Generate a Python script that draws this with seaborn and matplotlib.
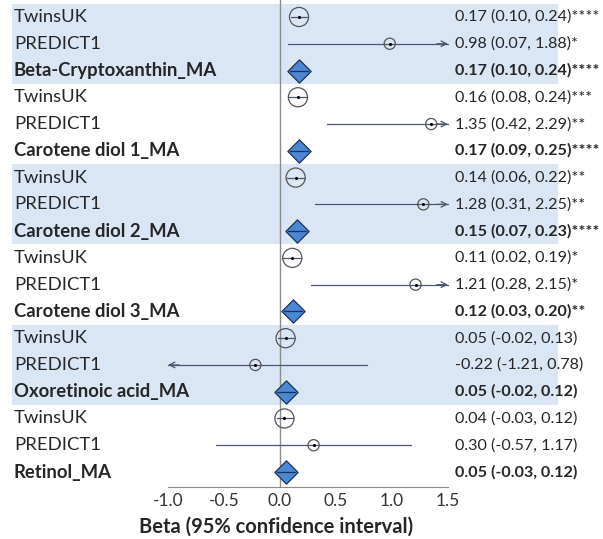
import numpy as np
import pandas as pd
import matplotlib
matplotlib.use('Agg')
import matplotlib.pyplot as plt
import seaborn as sns

# Data
groups = ['Beta-Cryptoxanthin_MA', 'Carotene diol 1_MA', 'Carotene diol 2_MA',
          'Carotene diol 3_MA', 'Oxoretinoic acid_MA', 'Retinol_MA']

twins_est = [0.17, 0.16, 0.14, 0.11, 0.05, 0.04]
twins_lo = [0.10, 0.08, 0.06, 0.02, -0.02, -0.03]
twins_hi = [0.24, 0.24, 0.22, 0.19, 0.13, 0.12]
twins_sig = ['****', '***', '**', '*', '', '']

predict_est = [0.98, 1.35, 1.28, 1.21, -0.22, 0.30]
predict_lo = [0.07, 0.42, 0.31, 0.28, -1.21, -0.57]
predict_hi = [1.88, 2.29, 2.25, 2.15, 0.78, 1.17]
predict_sig = ['*', '**', '**', '*', '', '']

ma_est = [0.17, 0.17, 0.15, 0.12, 0.05, 0.05]
ma_lo = [0.10, 0.09, 0.07, 0.03, -0.02, -0.03]
ma_hi = [0.24, 0.25, 0.23, 0.20, 0.12, 0.12]
ma_sig = ['****', '****', '****', '**', '', '']

xticks = [-1.0, -0.5, 0.0, 0.5, 1.0, 1.5]

# Build a long table, one row per line of the plot
rows = []
for i, g in enumerate(groups):
    rows.append(dict(pos=3 * i, label='TwinsUK', kind='twins', est=twins_est[i],
                     lo=twins_lo[i], hi=twins_hi[i], sig=twins_sig[i]))
    rows.append(dict(pos=3 * i + 1, label='PREDICT1', kind='predict', est=predict_est[i],
                     lo=predict_lo[i], hi=predict_hi[i], sig=predict_sig[i]))
    rows.append(dict(pos=3 * i + 2, label=g, kind='ma', est=ma_est[i],
                     lo=ma_lo[i], hi=ma_hi[i], sig=ma_sig[i]))
df = pd.DataFrame(rows)

sns.set_style('white')
plt.rcParams['font.family'] = ['Lato', 'DejaVu Sans']

fig = plt.figure(figsize=(6.03, 5.39), dpi=100)
# axes spans full width; bottom spine sits at the x axis line
ax = fig.add_axes([0, (539 - 487) / 539, 1, 487 / 539])
px = 112.0  # pixels per beta unit
x0_pix = 280.0
ax.set_xlim(-x0_pix / px, (603 - x0_pix) / px)
row_h = 26.8
ax.set_ylim(17 + 15 / row_h, -17 / row_h)

xmin_lim, xmax_lim = xticks[0], xticks[-1]

# shaded bands for alternate groups
for i in range(0, len(groups), 2):
    ax.axhspan(3 * i - 0.5, 3 * i + 2.5, xmin=12 / 603, xmax=558 / 603,
               color='#dae6f4', zorder=0, lw=0)

ax.axvline(0, color='#8c8c8c', lw=1, zorder=1)

line_col = '#4b5473'
for _, r in df.iterrows():
    lo = max(r['lo'], xmin_lim)
    hi = min(r['hi'], xmax_lim)
    ax.plot([lo, hi], [r['pos'], r['pos']], color=line_col, lw=0.9, zorder=2)
    if r['hi'] > xmax_lim:
        ax.annotate('', xy=(xmax_lim, r['pos']), xytext=(xmax_lim - 0.1, r['pos']),
                    arrowprops=dict(arrowstyle='->', color=line_col, lw=0.9,
                                    shrinkA=0, shrinkB=0), zorder=2)
    if r['lo'] < xmin_lim:
        ax.annotate('', xy=(xmin_lim, r['pos']), xytext=(xmin_lim + 0.1, r['pos']),
                    arrowprops=dict(arrowstyle='->', color=line_col, lw=0.9,
                                    shrinkA=0, shrinkB=0), zorder=2)

tw = df[df['kind'] == 'twins']
pr = df[df['kind'] == 'predict']
ma = df[df['kind'] == 'ma']

sns.scatterplot(data=tw, x='est', y='pos', marker='o', s=190, facecolor='none',
                edgecolor='#555555', linewidth=0.9, ax=ax, zorder=3)
sns.scatterplot(data=pr, x='est', y='pos', marker='o', s=65, facecolor='none',
                edgecolor='#555555', linewidth=0.9, ax=ax, zorder=3)
sns.scatterplot(data=pd.concat([tw, pr]), x='est', y='pos', marker='o', s=5,
                color='black', linewidth=0, ax=ax, zorder=4)
sns.scatterplot(data=ma, x='est', y='pos', marker='D', s=140, color='#4a88d4',
                edgecolor='#1f2f5a', linewidth=0.9, ax=ax, zorder=3)
for _, r in ma.iterrows():
    ax.plot([r['est'] - 0.08, r['est'] + 0.08], [r['pos'], r['pos']],
            color='#1f2f5a', lw=0.9, zorder=4)

# labels and values
trans = ax.get_yaxis_transform()
for _, r in df.iterrows():
    bold = r['kind'] == 'ma'
    ax.text(14 / 603, r['pos'], r['label'], transform=trans, fontsize=13.3,
            fontweight='bold' if bold else 'normal', va='center', ha='left')
    txt = f"{r['est']:.2f} ({r['lo']:.2f}, {r['hi']:.2f}){r['sig']}"
    ax.text(455 / 603, r['pos'], txt, transform=trans, fontsize=11.6,
            fontweight='bold' if bold else 'normal', va='center', ha='left')

# axis styling
for s in ['top', 'right', 'left']:
    ax.spines[s].set_visible(False)
ax.spines['bottom'].set_bounds(xmin_lim, xmax_lim)
ax.spines['bottom'].set_color('#8c8c8c')
ax.set_xticks(xticks)
ax.set_xticklabels([f'{t:.1f}' for t in xticks], fontsize=12.5, color='#333333')
ax.tick_params(axis='x', direction='in', length=5, color='#8c8c8c', pad=4)
ax.set_yticks([])
ax.set_xlabel('Beta (95% confidence interval)', fontsize=14.5, fontweight='bold')
ax.xaxis.set_label_coords(276 / 603, -0.06)
ax.set_ylabel('')
ax.grid(False)

fig.savefig('out.png', dpi=100)
